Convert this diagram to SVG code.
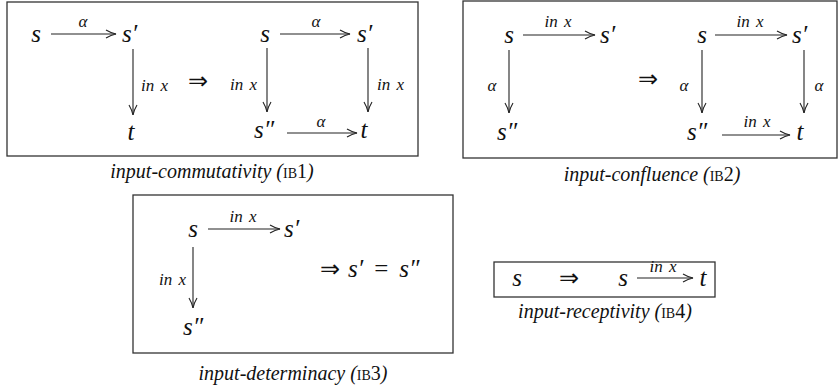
<svg xmlns="http://www.w3.org/2000/svg" width="838" height="389" viewBox="0 0 838 389">
<defs>
<marker id="ah" viewBox="0 0 12 10" refX="11" refY="5" markerWidth="12" markerHeight="10" markerUnits="userSpaceOnUse" orient="auto">
<path d="M1,1 Q6,4 11,5 Q6,6 1,9" fill="none" stroke="#222" stroke-width="1.1"/>
</marker>
</defs>
<style>
.box{fill:none;stroke:#333;stroke-width:1.3}
.ar{stroke:#222;stroke-width:1.1;fill:none;marker-end:url(#ah)}
</style>
<g id="connectors">
<line class="ar" x1="51" y1="34" x2="116" y2="34"/>
<line class="ar" x1="133" y1="49" x2="133" y2="115"/>
<line class="ar" x1="280" y1="34" x2="350" y2="34"/>
<line class="ar" x1="267" y1="48" x2="267" y2="112"/>
<line class="ar" x1="368" y1="48" x2="368" y2="112"/>
<line class="ar" x1="287" y1="133" x2="357" y2="133"/>
<line class="ar" x1="523" y1="35" x2="595" y2="35"/>
<line class="ar" x1="509" y1="50" x2="509" y2="113"/>
<line class="ar" x1="715" y1="35" x2="787" y2="35"/>
<line class="ar" x1="702" y1="50" x2="702" y2="113"/>
<line class="ar" x1="804" y1="50" x2="804" y2="113"/>
<line class="ar" x1="722" y1="135" x2="790" y2="135"/>
<line class="ar" x1="208" y1="229" x2="280" y2="229"/>
<line class="ar" x1="193" y1="247" x2="193" y2="308"/>
<line class="ar" x1="637" y1="278" x2="693" y2="278"/>
</g>
<g id="ib1" font-family="Liberation Serif" fill="#111">
<rect class="box" x="7" y="2" width="411" height="154"/>
<g font-style="italic" font-size="25">
<text x="36" y="42" text-anchor="middle">s</text>
<text x="122" y="42">s′</text>
<text x="131" y="140" text-anchor="middle">t</text>
<text x="265" y="42" text-anchor="middle">s</text>
<text x="357" y="42">s′</text>
<text x="254" y="138">s″</text>
<text x="364" y="138" text-anchor="middle">t</text>
</g>
<g font-style="italic" font-size="17" word-spacing="2">
<text x="83" y="27" text-anchor="middle">α</text>
<text x="141" y="91">in x</text>
<text x="316" y="27" text-anchor="middle">α</text>
<text x="257" y="90" text-anchor="end">in x</text>
<text x="377" y="90">in x</text>
<text x="321" y="127" text-anchor="middle">α</text>
</g>
<text x="198" y="89" text-anchor="middle" font-size="24">⇒</text>
<text x="212" y="178" text-anchor="middle" font-style="italic" font-size="20">input-commutativity (<tspan font-style="normal" font-size="14">IB</tspan><tspan font-style="normal">1</tspan>)</text>
</g>
<g id="ib2" font-family="Liberation Serif" fill="#111">
<rect class="box" x="463" y="1" width="374" height="157"/>
<g font-style="italic" font-size="25">
<text x="509" y="43" text-anchor="middle">s</text>
<text x="600" y="43">s′</text>
<text x="497" y="140">s″</text>
<text x="702" y="43" text-anchor="middle">s</text>
<text x="792" y="43">s′</text>
<text x="687" y="140">s″</text>
<text x="800" y="140" text-anchor="middle">t</text>
</g>
<g font-style="italic" font-size="17" word-spacing="2">
<text x="558" y="27" text-anchor="middle">in x</text>
<text x="492" y="91" text-anchor="middle">α</text>
<text x="750" y="27" text-anchor="middle">in x</text>
<text x="684" y="91" text-anchor="middle">α</text>
<text x="819" y="91" text-anchor="middle">α</text>
<text x="757" y="127" text-anchor="middle">in x</text>
</g>
<text x="648" y="87" text-anchor="middle" font-size="24">⇒</text>
<text x="652" y="181" text-anchor="middle" font-style="italic" font-size="20">input-confluence (<tspan font-style="normal" font-size="14">IB</tspan><tspan font-style="normal">2</tspan>)</text>
</g>
<g id="ib3" font-family="Liberation Serif" fill="#111">
<rect class="box" x="133" y="195" width="320" height="158"/>
<g font-style="italic" font-size="25">
<text x="193" y="237" text-anchor="middle">s</text>
<text x="284" y="237">s′</text>
<text x="183" y="335">s″</text>
<text x="320" y="277"><tspan font-style="normal" font-size="24">⇒</tspan><tspan dx="8">s′</tspan><tspan dx="11" font-style="normal">=</tspan><tspan dx="11">s″</tspan></text>
</g>
<g font-style="italic" font-size="17" word-spacing="2">
<text x="243" y="222" text-anchor="middle">in x</text>
<text x="186" y="285" text-anchor="end">in x</text>
</g>
<text x="293" y="380" text-anchor="middle" font-style="italic" font-size="20">input-determinacy (<tspan font-style="normal" font-size="14">IB</tspan><tspan font-style="normal">3</tspan>)</text>
</g>
<g id="ib4" font-family="Liberation Serif" fill="#111">
<rect class="box" x="494" y="262" width="221" height="35"/>
<g font-style="italic" font-size="25">
<text x="517" y="286" text-anchor="middle">s</text>
<text x="623" y="286" text-anchor="middle">s</text>
<text x="703" y="286" text-anchor="middle">t</text>
</g>
<text x="569" y="286" text-anchor="middle" font-size="24">⇒</text>
<text x="663" y="272" text-anchor="middle" font-style="italic" font-size="17" word-spacing="2">in x</text>
<text x="605" y="318" text-anchor="middle" font-style="italic" font-size="20">input-receptivity (<tspan font-style="normal" font-size="14">IB</tspan><tspan font-style="normal">4</tspan>)</text>
</g>
</svg>
